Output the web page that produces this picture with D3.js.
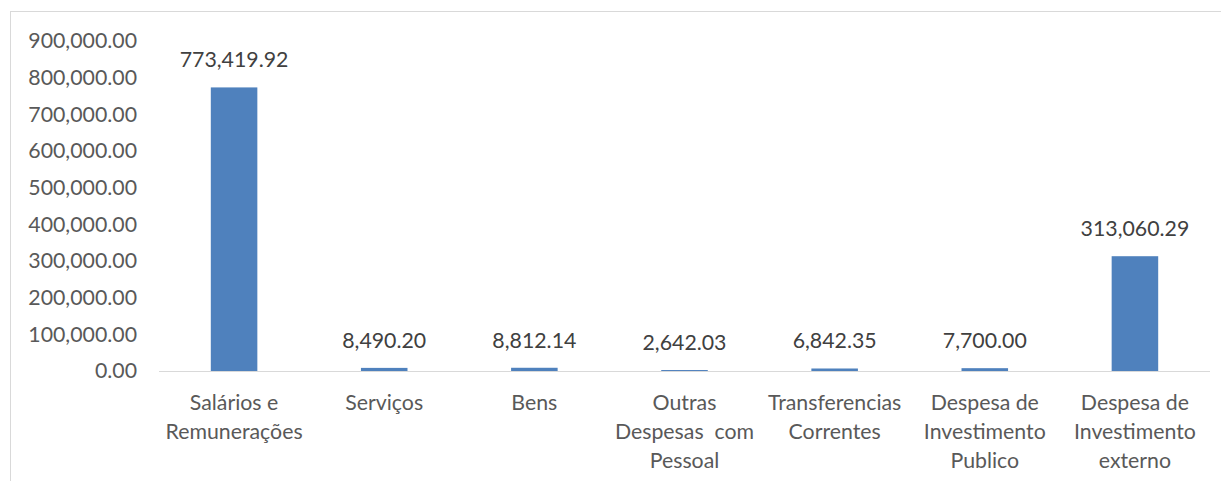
<!DOCTYPE html>
<html><head><meta charset="utf-8">
<script src="https://cdn.jsdelivr.net/npm/d3@7"></script>
<style>body{margin:0;background:#fff}text{font-family:Lato,"Open Sans",sans-serif}</style>
</head><body><svg id="c" width="1221" height="481"></svg>
<script>
const categories = [["Salários e","Remunerações"],["Serviços"],["Bens"],["Outras","Despesas  com","Pessoal"],["Transferencias","Correntes"],["Despesa de","Investimento","Publico"],["Despesa de","Investimento","externo"]];
const values = [773419.92, 8490.20, 8812.14, 2642.03, 6842.35, 7700.00, 313060.29];
const yTicks = [0,100000,200000,300000,400000,500000,600000,700000,800000,900000];

const FS = 21.3;
const svg = d3.select("#c");
svg.append("rect").attr("x",10.5).attr("y",11.5).attr("width",1300).attr("height",600)
  .attr("fill","none").attr("stroke","#d9d9d9");

const x = d3.scaleBand().domain(d3.range(values.length)).range([159,1210]).paddingInner(0.69).paddingOuter(0.345);
const y = d3.scaleLinear().domain([0,900000]).range([371,41]);
const fmt = d3.format(",.2f");

const ya = svg.append("g").attr("transform","translate(147,0)")
  .call(d3.axisLeft(y).tickValues(yTicks).tickFormat(fmt).tickSize(0).tickPadding(10));
ya.select(".domain").remove();
ya.selectAll("text").attr("font-size",FS).attr("fill","#595959").style("font-family","Lato");

svg.append("g").selectAll("rect").data(values).join("rect")
  .attr("x",(d,i)=>x(i)).attr("width",x.bandwidth())
  .attr("y",d=>y(d)).attr("height",d=>y(0)-y(d)).attr("fill","#4f81bd");

svg.append("line").attr("x1",159).attr("x2",1210).attr("y1",371.5).attr("y2",371.5).attr("stroke","#d9d9d9");

svg.append("g").selectAll("text").data(values).join("text")
  .attr("x",(d,i)=>x(i)+x.bandwidth()/2).attr("y",d=>y(d)-20)
  .attr("text-anchor","middle").attr("font-size",FS).attr("fill","#404040").text(d=>fmt(d));

const cl = svg.append("g");
categories.forEach((lines,i)=>{
  const t = cl.append("text").attr("x",x(i)+x.bandwidth()/2).attr("text-anchor","middle")
    .attr("font-size",FS).attr("fill","#595959").style("white-space","pre");
  lines.forEach((l,j)=>t.append("tspan").attr("x",x(i)+x.bandwidth()/2).attr("y",410+j*29).text(l));
});
</script></body></html>
